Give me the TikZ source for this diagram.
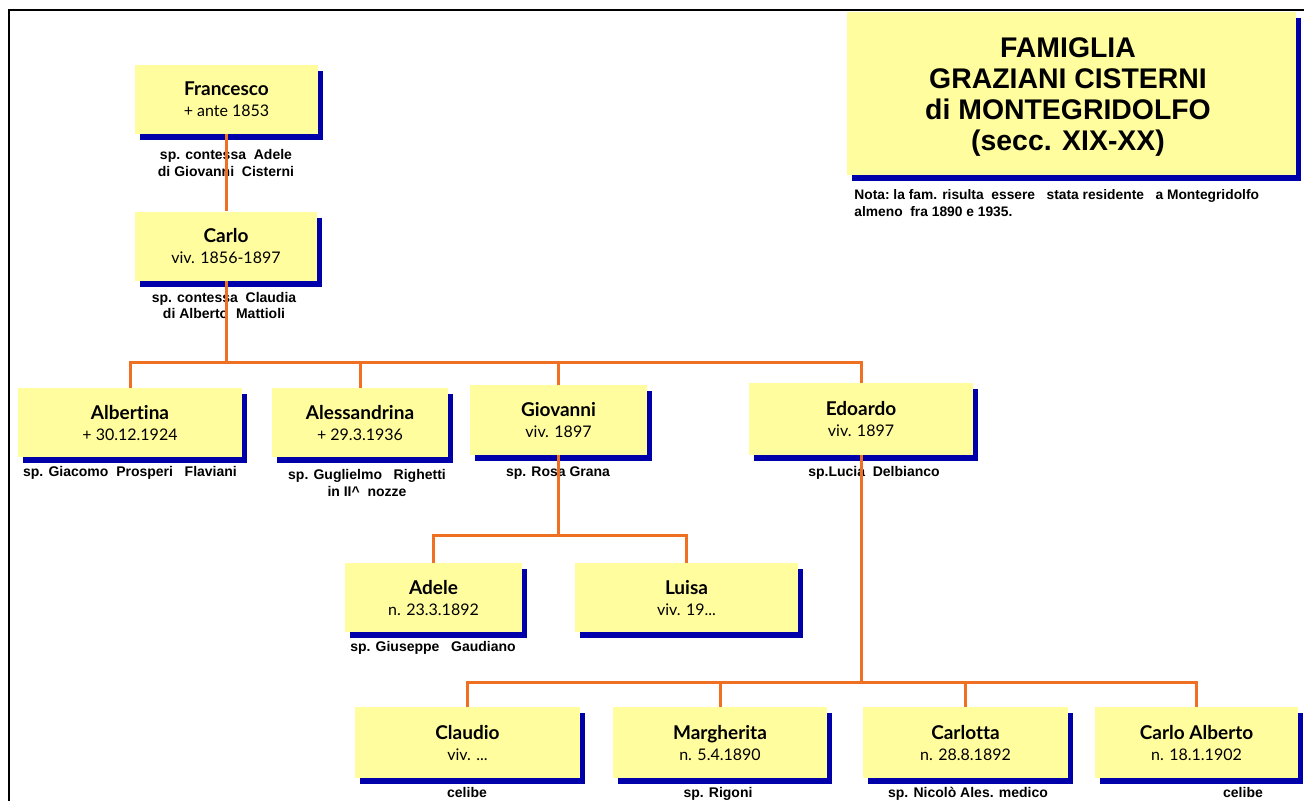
\documentclass[tikz,border=0pt]{standalone}
\usepackage{fontspec}
\setmainfont{Lato}[Ligatures={NoCommon}]
\newfontfamily\arialfont{Liberation Sans}
\usepackage{tikz}
\usetikzlibrary{positioning,shadows}
\definecolor{giallo}{RGB}{255,253,158}
\definecolor{blu}{RGB}{0,0,170}
\definecolor{arancio}{RGB}{240,112,35}
\newcommand{\scheda}[2]{{\fontsize{9.5}{10.5}\selectfont\bfseries #1}\\{\fontsize{8}{10.5}\selectfont #2}}
\tikzset{
    persona/.style={
        rectangle,
        fill=giallo,
        minimum height=34.5pt,
        inner sep=0pt,
        align=center,
        font=\fontsize{8}{10.5}\selectfont,
        drop shadow={shadow xshift=2.6pt, shadow yshift=-3pt, fill=blu, opacity=1}
    },
    coniuge/.style={
        inner sep=0pt,
        align=center,
        font=\arialfont\bfseries\fontsize{7}{8.2}\selectfont
    },
    linea/.style={draw=arancio, line width=1.5pt},
    cornice/.style={draw=black, line width=1.2pt}
}

\begin{document}
\begin{tikzpicture}[x=0.5pt, y=-0.5pt]

\useasboundingbox (0,0) rectangle (1304,800);
\clip (0,0) rectangle (1304,800);
\draw[cornice] (9,10) rectangle (1320,820);

% titolo
\node[persona, minimum width=224.5pt, minimum height=81.5pt] (titolo) at (1071.5,93.5) {};
\node[align=center, inner sep=0pt, font=\arialfont\bfseries\fontsize{14.2}{15.6}\selectfont] (titolo-testo) at (1068,97)
      {FAMIGLIA\\GRAZIANI CISTERNI\\di MONTEGRIDOLFO\\(secc. XIX-XX)};
\node[coniuge, anchor=west, align=left, font=\arialfont\bfseries\fontsize{6.9}{8.5}\selectfont] (nota) at (854,203.5)
      {Nota:\ la fam. risulta\ \ essere\ \ \ stata residente\ \ \ a Montegridolfo\\almeno\ \ fra 1890 e 1935.};

% prima e seconda generazione
\node[persona, minimum width=91.5pt] (francesco) at (226.5,99.5) {\scheda{Francesco}{+ ante 1853}};
\node[persona, minimum width=91pt] (carlo) at (226,246) {\scheda{Carlo}{viv. 1856-1897}};

% figli di Carlo
\node[persona, minimum width=112pt] (albertina) at (130,422.5) {\scheda{Albertina}{+ 30.12.1924}};
\node[persona, minimum width=88pt] (alessandrina) at (360,422.5) {\scheda{Alessandrina}{+ 29.3.1936}};
\node[persona, minimum width=88.5pt, minimum height=35pt] (giovanni) at (558.5,420) {\scheda{Giovanni}{viv. 1897}};
\node[persona, minimum width=112pt, minimum height=36pt] (edoardo) at (861,419) {\scheda{Edoardo}{viv. 1897}};

% figli di Giovanni
\node[persona, minimum width=88.5pt] (adele) at (433.5,597.5) {\scheda{Adele}{n. 23.3.1892}};
\node[persona, minimum width=111.5pt] (luisa) at (686.5,597.5) {\scheda{Luisa}{viv. 19...}};

% figli di Edoardo
\node[persona, minimum width=112.5pt, minimum height=35.5pt] (claudio) at (467.5,742.5) {\scheda{Claudio}{viv. ...}};
\node[persona, minimum width=107pt, minimum height=35.5pt] (margherita) at (720,742.5) {\scheda{Margherita}{n. 5.4.1890}};
\node[persona, minimum width=102.5pt, minimum height=35.5pt] (carlotta) at (965.5,742.5) {\scheda{Carlotta}{n. 28.8.1892}};
\node[persona, minimum width=101.5pt, minimum height=35.5pt] (carloalberto) at (1196.5,742.5) {\scheda{Carlo Alberto}{n. 18.1.1902}};

% coniugi
\node[coniuge] (sp-francesco) at (226,163) {sp. contessa\ \ Adele\\di Giovanni\ \ Cisterni};
\node[coniuge] (sp-carlo) at (224,305.5) {sp. contessa\ \ Claudia\\di Alberto\ \ Mattioli};
\node[coniuge] (sp-albertina) at (130,473) {sp. Giacomo\ \ Prosperi\ \ \ Flaviani};
\node[coniuge] (sp-alessandrina) at (367,483) {sp. Guglielmo\ \ \ Righetti\\in II\^{}\ \ nozze};
\node[coniuge] (sp-giovanni) at (558,473) {sp. Rosa Grana};
\node[coniuge] (sp-edoardo) at (874,473) {sp.Lucia\ \ Delbianco};
\node[coniuge] (sp-adele) at (433,648) {sp. Giuseppe\ \ \ Gaudiano};
\node[coniuge, anchor=base] (sp-claudio) at (467,797) {celibe};
\node[coniuge, anchor=base] (sp-margherita) at (718,797) {sp. Rigoni};
\node[coniuge, anchor=base] (sp-carlotta) at (968,797) {sp. Nicolò Ales. medico};
\node[coniuge, anchor=base] (sp-carloalberto) at (1243,797) {celibe};

% collegamenti
\coordinate (nodo1) at (carlo.south |- 0,362);
\coordinate (nodo2) at (giovanni.south |- 0,535);
\coordinate (nodo3) at (edoardo.south |- 0,682);

\draw[linea] (francesco.south) -- (francesco.south |- carlo.north);
\draw[linea] (carlo.south) -- (nodo1);
\draw[linea] (albertina.north) |- (nodo1) -| (edoardo.north);
\draw[linea] (alessandrina.north) -- (alessandrina.north |- nodo1);
\draw[linea] (giovanni.north) -- (giovanni.north |- nodo1);

\draw[linea] (giovanni.south) -- (nodo2);
\draw[linea] (adele.north) |- (nodo2) -| (luisa.north);

\draw[linea] (edoardo.south) -- (nodo3);
\draw[linea] (claudio.north) |- (nodo3) -| (carloalberto.north);
\draw[linea] (margherita.north) -- (margherita.north |- nodo3);
\draw[linea] (carlotta.north) -- (carlotta.north |- nodo3);

\end{tikzpicture}
\end{document}
